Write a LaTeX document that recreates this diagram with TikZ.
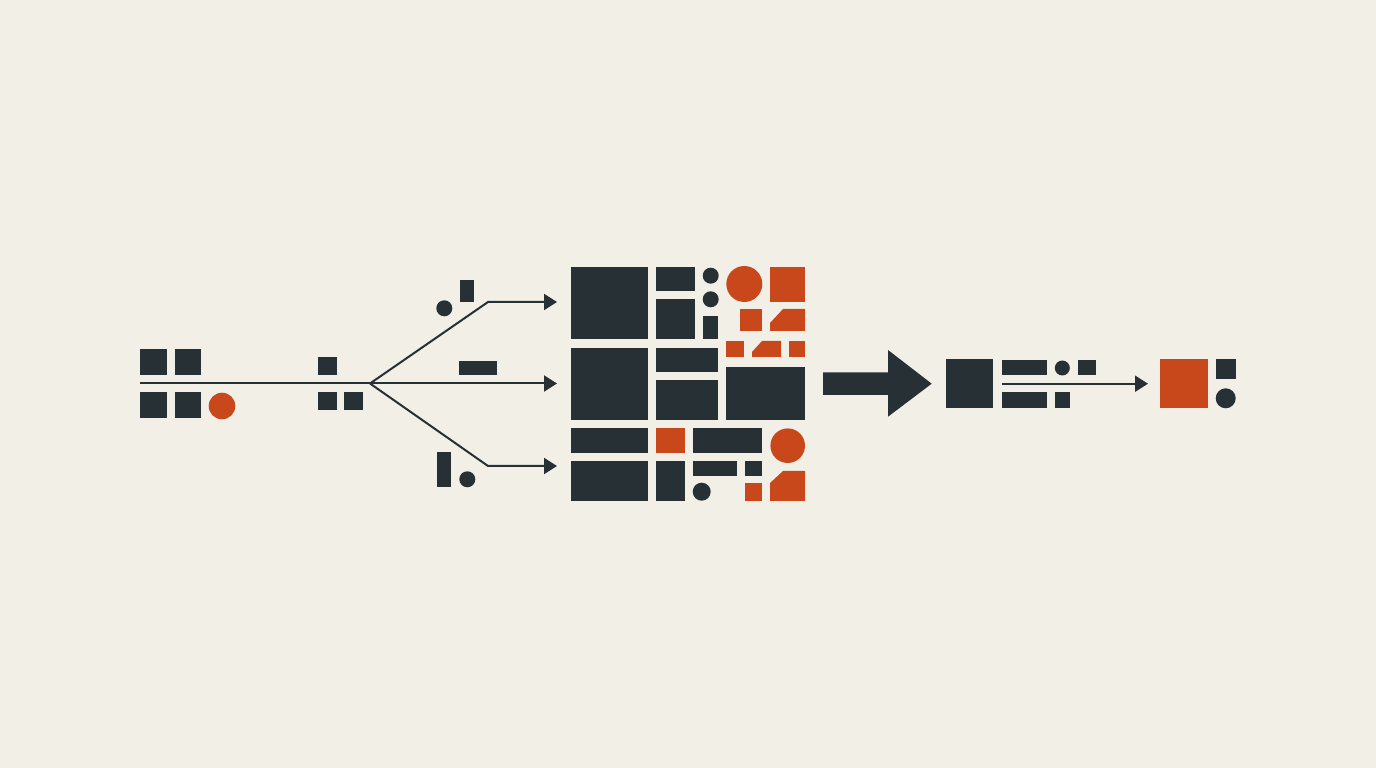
\documentclass[tikz,border=0pt]{standalone}
\usetikzlibrary{arrows.meta}

\definecolor{paper}{HTML}{F2EFE7}
\definecolor{ink}{HTML}{263035}
\definecolor{rust}{HTML}{C8481C}

\tikzset{
  blk/.style={fill=ink},
  hot/.style={fill=rust},
  wire/.style={draw=ink, line width=0.4mm, line join=miter},
  tip/.style={-{Triangle[length=2.6mm,width=3.2mm]}},
}

\begin{document}
\begin{tikzpicture}[x=0.2mm,y=-0.2mm]
	% sfondo
	\fill[paper] (0,0) rectangle (1376,768);
	\useasboundingbox (0,0) rectangle (1376,768);

	% punti dei collegamenti
	\coordinate (in) at (140,383.5);
	\coordinate (split) at (370,383.5);
	\coordinate (up) at (488,302);
	\coordinate (down) at (488,466);
	\coordinate (tipA) at (557,302);
	\coordinate (tipB) at (557,383.5);
	\coordinate (tipC) at (557,466);
	\coordinate (out) at (1002,383.7);
	\coordinate (outtip) at (1148,383.7);

	% gruppo di sinistra
	\fill[blk] (140,349) rectangle (167,375);
	\fill[blk] (175,349) rectangle (201,375);
	\fill[blk] (140,392) rectangle (167,418);
	\fill[blk] (175,392) rectangle (201,418);
	\fill[hot] (222,406) circle[radius=13.3];
	\fill[blk] (318,357) rectangle (337,375);
	\fill[blk] (318,392) rectangle (337,410);
	\fill[blk] (344,392) rectangle (363,410);

	% collega i nodi
	\draw[wire] (in) -- (split);
	\draw[wire,tip] (split) -- (up) -- (tipA);
	\draw[wire,tip] (split) -- (tipB);
	\draw[wire,tip] (split) -- (down) -- (tipC);

	% pezzi vicino ai rami
	\fill[blk] (444.3,308.3) circle[radius=8];
	\fill[blk] (460,280) rectangle (474,302);
	\fill[blk] (459,361) rectangle (497,375);
	\fill[blk] (437,452) rectangle (451,487);
	\fill[blk] (467.3,479.3) circle[radius=8];

	% griglia centrale, prima riga
	\fill[blk] (571,267) rectangle (648,339);
	\fill[blk] (656,267) rectangle (695,291);
	\fill[blk] (656,299) rectangle (695,339);
	\fill[blk] (710.7,275.7) circle[radius=8];
	\fill[blk] (710.7,299.3) circle[radius=8];
	\fill[blk] (703,316) rectangle (718,339);
	\fill[hot] (744.3,284) circle[radius=18];
	\fill[hot] (770,267) rectangle (805,302);
	\fill[hot] (740,309) rectangle (762,331);
	\fill[hot] (770,331) -- (770,323) -- (783,309) -- (805,309) -- (805,331) -- cycle;
	\fill[hot] (726,341) rectangle (744,357);
	\fill[hot] (752,357) -- (752,352) -- (762,341) -- (781,341) -- (781,357) -- cycle;
	\fill[hot] (789,341) rectangle (805,357);

	% seconda riga
	\fill[blk] (571,348) rectangle (648,420);
	\fill[blk] (656,348) rectangle (718,372);
	\fill[blk] (656,380) rectangle (718,420);
	\fill[blk] (726,367) rectangle (805,420);

	% terza riga
	\fill[blk] (571,428) rectangle (648,453);
	\fill[hot] (656,428) rectangle (685,453);
	\fill[blk] (693,428) rectangle (762,453);
	\fill[hot] (787.7,445.7) circle[radius=17.3];

	% quarta riga
	\fill[blk] (571,461) rectangle (648,501);
	\fill[blk] (656,461) rectangle (685,501);
	\fill[blk] (693,461) rectangle (737,476);
	\fill[blk] (745,461) rectangle (762,476);
	\fill[blk] (701.7,491.7) circle[radius=9];
	\fill[hot] (745,483) rectangle (762,501);
	\fill[hot] (770,501) -- (770,483) -- (783,471) -- (805,471) -- (805,501) -- cycle;

	% freccia grande
	\fill[blk] (823,372.3) -- (888,372.3) -- (888,350) -- (931.7,383.7)
		-- (888,416.7) -- (888,395) -- (823,395) -- cycle;

	% gruppo di destra
	\fill[blk] (946,359) rectangle (993,408);
	\fill[blk] (1002,360) rectangle (1047,375);
	\fill[blk] (1062.3,368) circle[radius=7.5];
	\fill[blk] (1078,360) rectangle (1096,375);
	\fill[blk] (1002,392) rectangle (1047,408);
	\fill[blk] (1055,392) rectangle (1070,408);
	\draw[wire,tip] (out) -- (outtip);

	% risultato
	\fill[hot] (1160,359) rectangle (1208,408);
	\fill[blk] (1216,359) rectangle (1236,379);
	\fill[blk] (1225.7,398.3) circle[radius=10];
\end{tikzpicture}
\end{document}
